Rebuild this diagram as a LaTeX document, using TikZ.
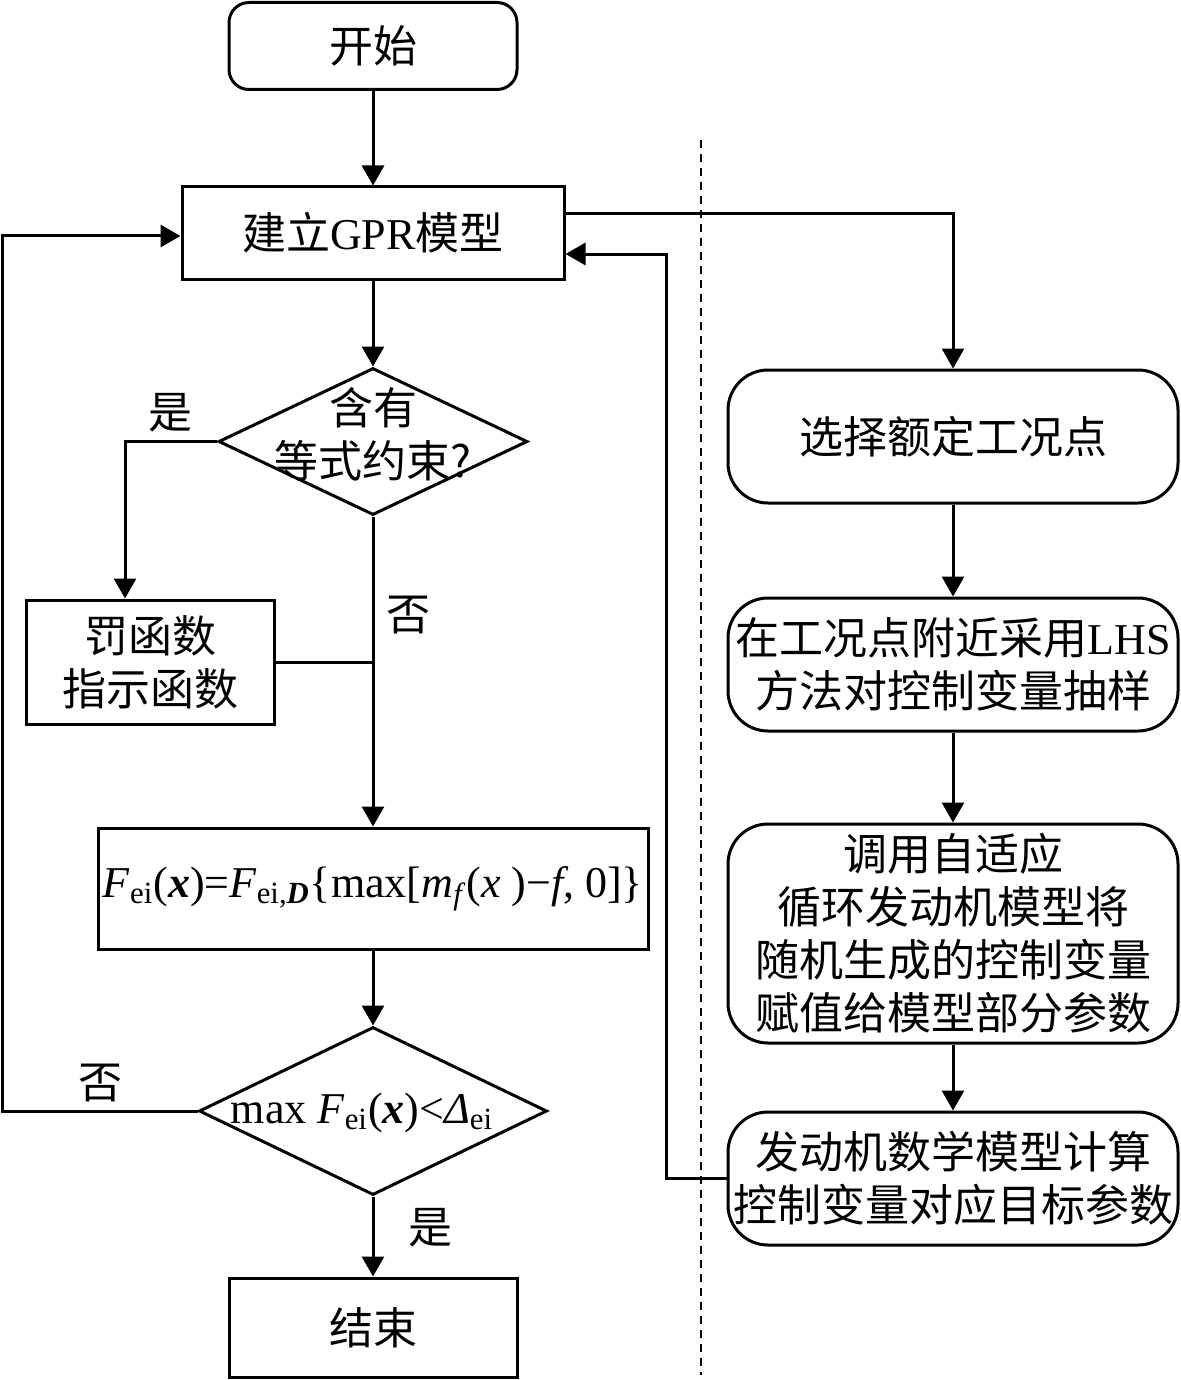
\documentclass[tikz,border=0pt]{standalone}
\usepackage{fontspec}
\setmainfont{Liberation Serif}
\newfontfamily\cjk{Noto Sans CJK SC}
\usetikzlibrary{shapes.geometric,arrows.meta,calc}
\begin{document}
\begin{tikzpicture}[x=0.5pt,y=-0.5pt,
  every node/.style={font=\fontsize{22pt}{26.5pt}\selectfont, align=center, inner sep=0pt},
  box/.style={draw, line width=1.5pt, minimum width=#1},
  rbox/.style={draw, line width=1.5pt, rounded corners=20pt, minimum width=225pt},
  dia/.style={draw, diamond, line width=1.5pt, inner sep=0pt},
  arr/.style={line width=1.5pt, -{Triangle[length=10pt,width=11pt]}},
  ln/.style={line width=1.5pt},
  lbl/.style={font=\fontsize{22pt}{26.5pt}\selectfont\cjk}
]
\useasboundingbox (0,0) rectangle (1181,1380);
% left column
\node[box=144pt, minimum height=43.5pt, rounded corners=10pt] (start) at (373,46) {\cjk 开始};
\node[box=191pt, minimum height=46pt] (gpr) at (373,233) {{\cjk 建立}GPR{\cjk 模型}};
\node[dia, minimum width=154.5pt, minimum height=73.5pt] (d1) at (373,441.5) {};
\node[lbl] (d1t) at (373,434) {含有\\等式约束?};
\node[box=124pt, minimum height=62pt] (pen) at (150,662) {\cjk 罚函数\\\cjk 指示函数};
\node[box=275pt, minimum height=60.5pt] (form) at (373,888.5)
  {\textit{F}\textsubscript{ei}(\textbf{\textit{x}})=\textit{F}\textsubscript{ei,\textbf{\textit{D}}}\{max[\textit{m}\textsubscript{\textit{f}}(\textit{x}~)−\textit{f}, 0]\}};
\node[dia, minimum width=174pt, minimum height=84pt] (d2) at (373,1111) {};
\node (d2t) at (362,1113) {max \textit{F}\textsubscript{ei}(\textbf{\textit{x}})<\textit{Δ}\textsubscript{ei}};
\node[box=144pt, minimum height=49.5pt] (end) at (373,1327.5) {\cjk 结束};
% right column
\node[rbox, minimum height=66.5pt] (r1) at (953,436.5) {\cjk 选择额定工况点};
\node[rbox, minimum height=66.5pt] (r2) at (953,664.5) {{\cjk 在工况点附近采用}LHS\\\cjk 方法对控制变量抽样};
\node[rbox, minimum height=109.5pt] (r3) at (953,933.5) {\cjk 调用自适应\\\cjk 循环发动机模型将\\\cjk 随机生成的控制变量\\\cjk 赋值给模型部分参数};
\node[rbox, minimum height=66.5pt] (r4) at (953,1178.5) {\cjk 发动机数学模型计算\\\cjk 控制变量对应目标参数};
% labels
\node[lbl] (y1) at (170,413) {是};
\node[lbl] (n1) at (408,615) {否};
\node[lbl] (n2) at (100,1083) {否};
\node[lbl] (y2) at (430,1228) {是};
% dashed divider
\coordinate (dv1) at (701,140);
\coordinate (dv2) at (701,1375);
\draw[line width=0.7pt, dash pattern=on 4pt off 3pt] (dv1) -- (dv2);
% connectors
\draw[arr] (start.south) -- (gpr.north);
\draw[arr] (gpr.south) -- (d1.north);
\draw[arr] (d1.west) -| ($(pen.north)+(-25,0)$);
\draw[arr] (d1.south) -- (form.north);
\draw[ln] (pen.east) -- (pen.east -| d1.south);
\draw[arr] (form.south) -- (d2.north);
\draw[arr] (d2.west) -- ++(-195,0) |- ($(gpr.west)+(0,3)$);
\draw[arr] (d2.south) -- (end.north);
\draw[arr] ($(gpr.east)+(0,-19)$) -| (r1.north);
\draw[arr] (r1.south) -- (r2.north);
\draw[arr] (r2.south) -- (r3.north);
\draw[arr] (r3.south) -- (r4.north);
\draw[arr] (r4.west) -- ++(-60,0) |- ($(gpr.east)+(0,21)$);
\end{tikzpicture}
\end{document}
